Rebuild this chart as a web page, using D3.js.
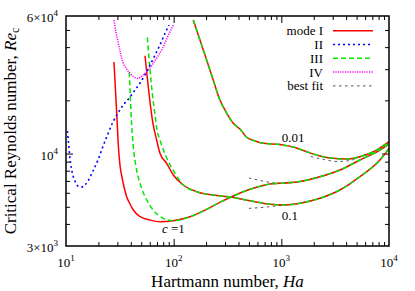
<!DOCTYPE html>
<html><head><meta charset="utf-8">
<script src="https://cdn.jsdelivr.net/npm/d3@7"></script>
<style>body{margin:0;background:#fff}svg{display:block}text{font-family:"Liberation Serif","Times New Roman",serif;fill:#000}</style>
</head><body><svg id="c" width="415" height="291"></svg>
<script>
// ---- data: [Hartmann number, critical Reynolds number] ----
const modeI_c1 = [[27.9,32950],[28.8,22880],[29.8,15480],[30.6,11180],[31.7,8614],[33.1,7369],[34.6,6468],[36.6,5700],[39.3,5184],[42.2,4794],[48.7,4394],[60.3,4209],[74.6,4117],[99.2,4171],[142,4394],[203,4838],[269,5300],[346,5700],[443,6084],[590,6443],[784,6726],[970,6787],[1488,6949],[2283,7398],[3501,8072],[5369,9195],[8233,10470],[10000,11320]];
const modeIII_c1 = [[38.7,28920],[39.7,20090],[40.7,14510],[42.2,10930],[45.3,8072],[48.7,6787],[56.2,5462],[64.6,4794],[80.1,4303],[99.2,4171],[142,4394],[203,4838],[269,5300],[346,5700],[443,6084],[590,6443],[784,6726],[970,6787],[1488,6949],[2283,7398],[3501,8072],[5369,9195],[8233,10470],[10000,11320]];
const modeI_c01 = [[54.2,35760],[58.1,23880],[62.5,16520],[64.6,14510],[69.5,11930],[74.6,10030],[86.1,8808],[99.2,7563],[122.8,6638],[163.5,6084],[233,5829],[346,5656],[511,5412],[784,5164],[1080,5117],[1488,5232],[2283,5584],[3501,6220],[5369,7398],[8233,9195],[10000,10700]];
const modeIII_c01 = [[56.9,45440],[60.3,29690],[63.6,21440],[67.1,16520],[70.0,13590],[74.6,11930],[86.1,9437],[102.8,7732],[122.8,6638],[163.5,6084],[233,5829],[346,5656],[511,5412],[784,5164],[1080,5117],[1488,5232],[2283,5584],[3501,6220],[5369,7398],[8233,9195],[10000,10700]];
const modeI_c001 = [[152,56930],[175.5,43870],[202.5,33810],[233,26060],[269,20090],[310.5,16960],[357.7,14830],[412.7,13770],[476.3,12360],[568.6,11780],[679,11430],[970,11250],[1338,10820],[1718,10240],[2283,9685],[3014,9399],[4039,9315],[5369,9598],[7672,10470],[10000,11670]];
const modeIII_c001 = modeI_c001.map(d => d.slice());
const modeII = [[10.3,13400],[10.5,11930],[10.8,9811],[11.3,8072],[12.1,6994],[12.9,6553],[14.0,6468],[15.0,6638],[16.0,6994],[17.8,7967],[19.8,9195],[22.1,11030],[24.5,12900],[27.3,15080],[30.4,16960],[34.6,19070],[39.3,20880],[43.7,22880],[48.7,25060],[54.2,28000],[60.3,31680],[67.1,36080],[74.6,41110],[83.0,47750],[90.4,53360]];
const modeIV = [[27.9,56930],[29.1,48690],[30.6,42200],[32.4,36080],[34.0,32520],[36.1,30470],[39.3,28430],[42.8,27100],[46.9,26650],[50.8,27450],[56.2,29030],[60.3,30470],[64.6,32390],[71.5,35620],[80.1,40210],[88.5,46220],[99.2,53360]];
const bestFit_c1 = [[500,7274],[606,7087],[735,6922],[891,6814],[1080,6797],[1488,6949],[2283,7398],[3501,8072],[5369,9195],[8233,10470],[10000,11320]];
const bestFit_c01 = [[500,4901],[606,4934],[735,4985],[891,5050],[1080,5117],[1488,5232],[2283,5584],[3501,6220],[5369,7398],[8233,9195],[10000,10700]];
const bestFit_c001 = [[1883,9622],[2486,9253],[3282,9016],[4335,9130],[5603,9685],[7672,10470],[10000,11670]];

const xTickVals = [10, 100, 1000, 10000];
const xTickExp = ["1", "2", "3", "4"];
const yTickVals = [3000, 10000, 60000];
const yTickMant = ["3\u00d710", "10", "6\u00d710"];
const yTickExp = ["3", "4", "4"];
const legendLabels = ["mode I", "II", "III", "IV", "best fit"];
const curveLabels = [{t:"0.01", ha:1010, re:11630}, {t:"0.1", ha:1010, re:4209}];

// ---- layout ----
const L = 66, R = 389, T = 16, B = 246;
const svg = d3.select("#c");
const x = d3.scaleLog().domain([10, 10000]).range([L, R]);
const y = d3.scaleLog().domain([3000, 60000]).range([B, T]);

const styles = {
  I:   {stroke:"#ff0000", dash:null, w:1.5},
  II:  {stroke:"#0000ff", dash:"2,3", w:1.6},
  III: {stroke:"#00e600", dash:"5,3", w:1.5},
  IV:  {stroke:"#ff00ff", dash:"1.2,1.2", w:1.5},
  BF:  {stroke:"#555555", dash:"2.5,3.5", w:1}
};

svg.append("defs").append("clipPath").attr("id","clip")
  .append("rect").attr("x",L).attr("y",T).attr("width",R-L).attr("height",B-T);

// ---- ticks (inward, mirrored) ----
function minorVals(dom){
  const out=[]; for(let d=dom[0]; d<dom[1]; d*=10){ for(let k=1;k<10;k++){ const v=k*d; if(v>dom[0]&&v<dom[1]) out.push(v);} }
  return out;
}
const xMinor = minorVals([10,10000]).filter(v=>![100,1000].includes(v));
const xMajor = [100,1000];
const yMinor = [4000,5000,6000,7000,8000,9000,20000,30000,40000,50000];
const yMajor = [10000];

function addAxis(axis, tr){
  const g = svg.append("g").attr("transform",tr).call(axis);
  g.select(".domain").remove();
  g.selectAll(".tick line").attr("stroke","#000").attr("stroke-width",1);
  g.selectAll(".tick text").remove();
}
addAxis(d3.axisBottom(x).tickValues(xMinor).tickSize(-4).tickFormat(""), `translate(0,${B})`);
addAxis(d3.axisBottom(x).tickValues(xMajor).tickSize(-7).tickFormat(""), `translate(0,${B})`);
addAxis(d3.axisTop(x).tickValues(xMinor).tickSize(-4).tickFormat(""), `translate(0,${T})`);
addAxis(d3.axisTop(x).tickValues(xMajor).tickSize(-7).tickFormat(""), `translate(0,${T})`);
addAxis(d3.axisLeft(y).tickValues(yMinor).tickSize(-4).tickFormat(""), `translate(${L},0)`);
addAxis(d3.axisLeft(y).tickValues(yMajor).tickSize(-7).tickFormat(""), `translate(${L},0)`);
addAxis(d3.axisRight(y).tickValues(yMinor).tickSize(-4).tickFormat(""), `translate(${R},0)`);
addAxis(d3.axisRight(y).tickValues(yMajor).tickSize(-7).tickFormat(""), `translate(${R},0)`);

// ---- curves ----
const line = d3.line().x(d=>x(d[0])).y(d=>y(d[1])).curve(d3.curveMonotoneX);
const plot = svg.append("g").attr("clip-path","url(#clip)");
function draw(data, st){
  plot.append("path").attr("d", line(data)).attr("fill","none")
    .attr("stroke", st.stroke).attr("stroke-width", st.w)
    .attr("stroke-dasharray", st.dash);
}
[bestFit_c1, bestFit_c01, bestFit_c001].forEach(d=>draw(d, styles.BF));
[modeI_c1, modeI_c01, modeI_c001].forEach(d=>draw(d, styles.I));
[modeIII_c1, modeIII_c01, modeIII_c001].forEach(d=>draw(d, styles.III));
draw(modeII, styles.II);
draw(modeIV, styles.IV);

// frame
svg.append("rect").attr("x",L).attr("y",T).attr("width",R-L).attr("height",B-T)
  .attr("fill","none").attr("stroke","#000").attr("stroke-width",1.5);

// ---- tick labels ----
xTickVals.forEach((v,i)=>{
  const t = svg.append("text").attr("x", x(v)).attr("y", 266.5).attr("text-anchor","middle").attr("font-size",13);
  t.append("tspan").text("10");
  t.append("tspan").attr("font-size",9).attr("dy",-6).text(xTickExp[i]);
});
yTickVals.forEach((v,i)=>{
  const t = svg.append("text").attr("x", 58).attr("y", y(v)+6).attr("text-anchor","end").attr("font-size",13);
  t.append("tspan").text(yTickMant[i]);
  t.append("tspan").attr("font-size",9).attr("dy",-6).text(yTickExp[i]);
});

// ---- axis titles ----
const xt = svg.append("text").attr("x", (L+R)/2).attr("y", 287).attr("text-anchor","middle").attr("font-size",17);
xt.append("tspan").text("Hartmann number, ");
xt.append("tspan").attr("font-style","italic").text("Ha");

const yt = svg.append("text").attr("transform", `translate(16,${(T+B)/2}) rotate(-90)`).attr("text-anchor","middle").attr("font-size",17);
yt.append("tspan").text("Critical Reynolds number, ");
yt.append("tspan").attr("font-style","italic").text("Re");
yt.append("tspan").attr("font-size",12).attr("dy",3).text("c");

// ---- curve labels ----
const cl = svg.append("text").attr("x", 162).attr("y", 233).attr("font-size",13);
cl.append("tspan").attr("font-style","italic").text("c");
cl.append("tspan").text(" =1");
curveLabels.forEach(c=>{
  svg.append("text").attr("x", x(c.ha)).attr("y", y(c.re)).attr("font-size",13).text(c.t);
});

// ---- legend ----
const legStyles = [styles.I, styles.II, styles.III, styles.IV, styles.BF];
legendLabels.forEach((lab,i)=>{
  const cy = 30.7 + i*13.8;
  svg.append("text").attr("x",323).attr("y",cy+4.5).attr("text-anchor","end").attr("font-size",13).text(lab);
  const st = legStyles[i];
  svg.append("line").attr("x1",333).attr("x2",373).attr("y1",cy).attr("y2",cy)
    .attr("stroke",st.stroke).attr("stroke-width",st.w).attr("stroke-dasharray",st.dash);
});
</script></body></html>
